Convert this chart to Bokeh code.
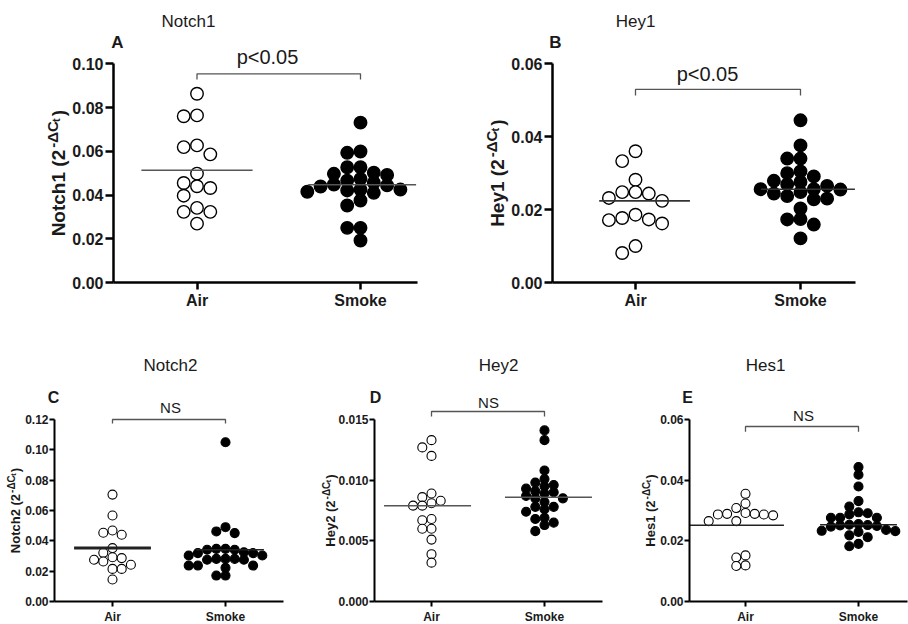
import numpy as np
from bokeh.plotting import figure
from bokeh.models import FixedTicker, PrintfTickFormatter, Label, Range1d
from bokeh.layouts import row, column
from bokeh.embed import file_html
from bokeh.resources import INLINE

# ---------------- data ----------------
groups = ["Air", "Smoke"]

notch1_air = [0.0863, 0.0764, 0.0760, 0.0627, 0.0619, 0.0586, 0.0498, 0.0455,
              0.0440, 0.0432, 0.0397, 0.0341, 0.0323, 0.0323, 0.0269]
notch1_smoke = [0.0731, 0.0599, 0.0593, 0.0527, 0.0527, 0.0502, 0.0497, 0.0492,
                0.0474, 0.0466, 0.0456, 0.0448, 0.0444, 0.0439, 0.0425, 0.0425,
                0.0421, 0.0415, 0.0410, 0.0375, 0.0352, 0.0250, 0.0250, 0.0192]
notch1_center = [0.0513, 0.0447]
notch1_ticks = [0.0, 0.02, 0.04, 0.06, 0.08, 0.10]

hey1_air = [0.0360, 0.0333, 0.0282, 0.0248, 0.0248, 0.0244, 0.0232, 0.0224,
            0.0186, 0.0177, 0.0173, 0.0171, 0.0162, 0.0100, 0.0081]
hey1_smoke = [0.0445, 0.0376, 0.0340, 0.0340, 0.0305, 0.0300, 0.0291, 0.0279,
              0.0276, 0.0269, 0.0265, 0.0256, 0.0256, 0.0255, 0.0248, 0.0244,
              0.0237, 0.0230, 0.0228, 0.0203, 0.0174, 0.0173, 0.0159, 0.0121]
hey1_center = [0.0224, 0.0256]
hey1_ticks = [0.0, 0.02, 0.04, 0.06]

notch2_air = [0.0705, 0.0567, 0.0468, 0.0453, 0.0440, 0.0352, 0.0321, 0.0292,
              0.0286, 0.0275, 0.0264, 0.0242, 0.0215, 0.0215, 0.0145]
notch2_smoke = [0.1050, 0.0490, 0.0462, 0.0451, 0.0347, 0.0347, 0.0341, 0.0341,
                0.0325, 0.0319, 0.0319, 0.0303, 0.0303, 0.0281, 0.0281, 0.0281,
                0.0275, 0.0275, 0.0237, 0.0237, 0.0237, 0.0222, 0.0171, 0.0171]
notch2_center = [0.0352, 0.0341]
notch2_ticks = [0.0, 0.02, 0.04, 0.06, 0.08, 0.10, 0.12]

hey2_air = [0.0133, 0.0127, 0.0120, 0.0089, 0.0086, 0.0083, 0.0081, 0.0079,
            0.0079, 0.0068, 0.0067, 0.0060, 0.0060, 0.0051, 0.0039, 0.0032]
hey2_smoke = [0.0141, 0.0133, 0.0108, 0.0101, 0.0098, 0.0096, 0.0095, 0.0093,
              0.0091, 0.0090, 0.0089, 0.0087, 0.0085, 0.0085, 0.0082, 0.0078,
              0.0078, 0.0076, 0.0074, 0.0069, 0.0068, 0.0065, 0.0063, 0.0058]
hey2_center = [0.0079, 0.0086]
hey2_ticks = [0.0, 0.005, 0.010, 0.015]

hes1_air = [0.0355, 0.0323, 0.0308, 0.0292, 0.0289, 0.0289, 0.0287, 0.0287,
            0.0284, 0.0265, 0.0265, 0.0152, 0.0145, 0.0119, 0.0117]
hes1_smoke = [0.0443, 0.0418, 0.0379, 0.0331, 0.0313, 0.0294, 0.0291, 0.0287,
              0.0276, 0.0276, 0.0276, 0.0255, 0.0253, 0.0252, 0.0251, 0.0249,
              0.0247, 0.0236, 0.0233, 0.0232, 0.0229, 0.0218, 0.0212, 0.0190, 0.0182]
hes1_center = [0.0251, 0.0253]
hes1_ticks = [0.0, 0.02, 0.04, 0.06]

# ---------------- layout / style ----------------
FONT = "Liberation Sans"
INK = "#1a1a1a"

BIG = dict(dia=12.5, step_px=13.3, axis_w=2.5, tick_font=16, xtick_font=16,
           tick_out=8, xtick_out=7, ystandoff=2, xstandoff=2, title_font=17,
           letter_font=17, sig_font=20, ylab=(19, 15, 11), ylab_gap=2.0,
           mean_w=1.6, marker_lw=1.4)
SMALL = dict(dia=9, step_px=9.2, axis_w=2.0, tick_font=12, xtick_font=12,
             tick_out=5, xtick_out=5, ystandoff=1, xstandoff=3, title_font=17,
             letter_font=16, sig_font=15, ylab=(13, 10, 7.5), ylab_gap=1.0,
             mean_w=1.5, marker_lw=1.1)
TIGHT = (0.92, 0.78)   # swarm packing: open (Air) vs filled (Smoke) markers

specs = [
    dict(name="Notch1", letter="A", air=notch1_air, smoke=notch1_smoke,
         center=notch1_center, ticks=notch1_ticks, fmt="%.2f", st=BIG,
         fig=(0, 0, 454, 315), axis_box=(113, 417, 282), ymax=0.10, ymax_px=63.3,
         cats_px=(196.5, 360.0), title_xy=(188, 21), letter_xy=(117, 42),
         sig="p<0.05", sig_xy=(267, 56), bracket=(0.0954, 0.0928), ylab_x=58,
         mean_span=[(-0.34, 0.34), (-0.32, 0.34)], mean_lw=(1.6, 1.6),
         mean_c="#555555"),
    dict(name="Hey1", letter="B", air=hey1_air, smoke=hey1_smoke,
         center=hey1_center, ticks=hey1_ticks, fmt="%.2f", st=BIG,
         fig=(454, 0, 454, 315), axis_box=(552, 855, 282), ymax=0.06, ymax_px=63.3,
         cats_px=(635.0, 800.0), title_xy=(635, 21), letter_xy=(555, 42),
         sig="p<0.05", sig_xy=(707, 73), bracket=(0.0530, 0.0513), ylab_x=497,
         mean_span=[(-0.22, 0.33), (-0.24, 0.33)], mean_lw=(1.6, 1.6),
         mean_c="#333333"),
    dict(name="Notch2", letter="C", air=notch2_air, smoke=notch2_smoke,
         center=notch2_center, ticks=notch2_ticks, fmt="%.2f", st=SMALL,
         fig=(0, 315, 310, 309), axis_box=(54, 283, 601), ymax=0.12, ymax_px=419,
         cats_px=(112.0, 225.0), title_xy=(170, 365), letter_xy=(53, 397),
         sig="NS", sig_xy=(170, 407), bracket=(0.1200, 0.1174), ylab_x=15,
         mean_span=[(-0.34, 0.34), (-0.26, 0.34)], mean_lw=(3.0, 1.5),
         mean_c="#222222"),
    dict(name="Hey2", letter="D", air=hey2_air, smoke=hey2_smoke,
         center=hey2_center, ticks=hey2_ticks, fmt="%.3f", st=SMALL,
         fig=(310, 315, 310, 309), axis_box=(374, 602, 601), ymax=0.015, ymax_px=419,
         cats_px=(431.0, 544.0), title_xy=(498, 365), letter_xy=(375, 397),
         sig="NS", sig_xy=(488, 402), bracket=(0.01566, 0.01525), ylab_x=330,
         mean_span=[(-0.42, 0.35), (-0.35, 0.42)], mean_lw=(1.5, 1.5),
         mean_c="#555555"),
    dict(name="Hes1", letter="E", air=hes1_air, smoke=hes1_smoke,
         center=hes1_center, ticks=hes1_ticks, fmt="%.2f", st=SMALL,
         fig=(620, 315, 288, 309), axis_box=(689, 907, 601), ymax=0.06, ymax_px=419,
         cats_px=(745.0, 858.0), title_xy=(765, 365), letter_xy=(687, 397),
         sig="NS", sig_xy=(803, 415), bracket=(0.0577, 0.0560), ylab_x=650,
         mean_span=[(-0.50, 0.34), (-0.34, 0.34)], mean_lw=(1.5, 1.5),
         mean_c="#222222"),
]

CW = {'N': 722, 'o': 611, 't': 333, 'c': 556, 'h': 611, ' ': 278, '(': 333,
      ')': 333, '-': 333, '\u0394': 668, 'C': 722, 'H': 722, 'e': 556, 'y': 556,
      's': 556}


def text_w(s, size):
    return sum(CW.get(ch, 556) for ch in s) * size / 1000.0


def swarm(values, ppy, dia_px, step, tight):
    vals = np.asarray(values, float)
    order = np.argsort(-vals, kind="stable")
    cand = [0] + [sg * j for j in range(1, 12) for sg in (-1, 1)]
    cols = {}
    offs = np.zeros(len(vals))
    for i in order:
        y = vals[i] * ppy
        for c in cand:
            if all(abs(y - yy) >= tight * dia_px for yy in cols.get(c, [])):
                cols.setdefault(c, []).append(y)
                offs[i] = c * step
                break
    return offs


def add_text(p, s, X, Y, text, size, bold=False, align="center",
             baseline="middle", angle=0.0):
    fx, fy, fw, fh = s["fig"]
    p.add_layout(Label(x=X - fx, y=(fy + fh) - Y, x_units="screen", y_units="screen",
                       text=text, text_font=FONT, text_font_size=f"{size}px",
                       text_font_style="bold" if bold else "normal",
                       text_align=align, text_baseline=baseline, angle=angle,
                       text_color=INK))


def make_panel(s):
    st = s["st"]
    fx, fy, fw, fh = s["fig"]
    al, ar, ab = s["axis_box"]
    ax_px, sm_px = s["cats_px"]
    ppx = sm_px - ax_px

    def xd(X):
        return 1 + (X - ax_px) / ppx

    ppy = (ab - s["ymax_px"]) / s["ymax"]

    def yd(Y):
        return (ab - Y) / ppy

    p = figure(width=fw, height=fh, x_range=Range1d(xd(fx), xd(fx + fw)),
               y_range=Range1d(yd(fy + fh), yd(fy)), output_backend="svg",
               toolbar_location=None, title=None,
               min_border_left=0, min_border_right=0,
               min_border_top=0, min_border_bottom=0)
    p.background_fill_color = "white"
    p.border_fill_color = "white"
    p.outline_line_color = None
    p.xgrid.visible = False
    p.ygrid.visible = False

    xa = p.xaxis[0]
    ya = p.yaxis[0]
    xa.fixed_location = 0.0
    ya.fixed_location = xd(al)
    xa.bounds = (xd(al), xd(ar))
    ya.bounds = (0, s["ymax"])
    xa.ticker = FixedTicker(ticks=[1, 2])
    xa.major_label_overrides = {1: groups[0], 2: groups[1]}
    ya.ticker = FixedTicker(ticks=s["ticks"])
    ya.formatter = PrintfTickFormatter(format=s["fmt"])
    for a, fs, out, so in ((xa, st["xtick_font"], st["xtick_out"], st["xstandoff"]),
                           (ya, st["tick_font"], st["tick_out"], st["ystandoff"])):
        a.axis_line_color = "black"
        a.axis_line_width = st["axis_w"]
        a.major_tick_line_color = "black"
        a.major_tick_line_width = st["axis_w"]
        a.major_tick_out = out
        a.major_tick_in = 0
        a.minor_tick_out = 0
        a.minor_tick_in = 0
        a.major_label_text_font = FONT
        a.major_label_text_font_style = "bold"
        a.major_label_text_font_size = f"{fs}px"
        a.major_label_text_color = INK
        a.major_label_standoff = so

    step = st["step_px"] / ppx
    for gi, (vals, fill) in enumerate(((s["air"], "white"), (s["smoke"], "black"))):
        offs = swarm(vals, ppy, st["dia"], step, TIGHT[gi])
        p.scatter(x=(gi + 1) + offs, y=vals, marker="circle", size=st["dia"],
                  fill_color=fill, line_color="black", line_width=st["marker_lw"])

    for gi in range(2):
        c = s["center"][gi]
        lo, hi = s["mean_span"][gi]
        p.line(x=[gi + 1 + lo, gi + 1 + hi], y=[c, c], line_color=s["mean_c"],
               line_width=s["mean_lw"][gi])

    b0, b1 = s["bracket"]
    p.line(x=[1, 1, 2, 2], y=[b1, b0, b0, b1], line_color="#555555", line_width=1.3)

    add_text(p, s, *s["title_xy"], s["name"], st["title_font"])
    add_text(p, s, *s["letter_xy"], s["letter"], st["letter_font"], bold=True)
    add_text(p, s, *s["sig_xy"], s["sig"], st["sig_font"])

    # rotated y-axis label with superscript: Name (2^-ΔCt)
    mfs, sfs, tfs = st["ylab"]
    g = st["ylab_gap"]
    parts = [(s["name"] + " (2", mfs, 0.0, g), ("-\u0394C", sfs, 0.32 * mfs, 0.0),
             ("t", tfs, 0.13 * mfs, g), (")", mfs, 0.0, 0.0)]
    L = sum(text_w(t, sz) + gp for t, sz, _, gp in parts)
    yc = (s["ymax_px"] + ab) / 2.0
    ycur = yc + L / 2.0
    xm = s["ylab_x"]
    for t, sz, r, gp in parts:
        add_text(p, s, xm - r, ycur, t, sz, bold=True, align="left",
                 baseline="middle", angle=np.pi / 2)
        ycur -= text_w(t, sz) + gp
    return p


figs = [make_panel(s) for s in specs]
layout = column(row(figs[0], figs[1]), row(figs[2], figs[3], figs[4]))

open("out.html", "w").write(file_html(layout, INLINE, "Notch signalling"))
